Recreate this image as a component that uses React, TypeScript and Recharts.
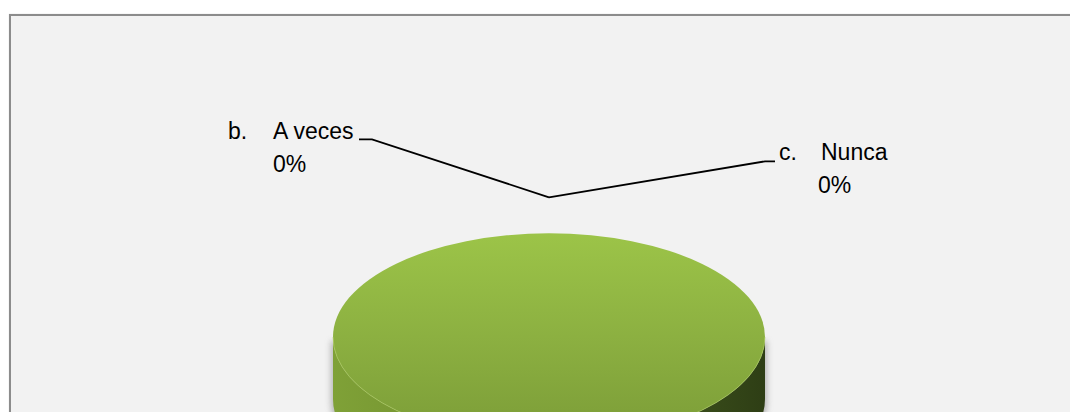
import React from 'react';
import { PieChart, Pie, Cell } from 'recharts';

const categories = ['a. Siempre', 'b. A veces', 'c. Nunca'];
const values = [100, 0, 0];
const colors = ['#8fb442', '#4f81bd', '#c0504d'];

const data = categories.map((name, i) => ({ name, value: values[i] }));

const W = 1070;
const H = 412;
const K = 0.48;
const DEPTH = 62;
const FONT = '"Liberation Sans", Arial, sans-serif';

const Slice3D = (props: any) => {
  const { cx, cy, outerRadius, startAngle, endAngle, index } = props;
  const sweep = Math.abs(endAngle - startAngle);
  if (sweep < 0.01) return <g />;
  const rx = outerRadius;
  const ry = outerRadius * K;
  const id = `s${index}`;
  const defs = (
    <defs>
      <linearGradient id={`${id}top`} x1="0" y1="0" x2="0" y2="1">
        <stop offset="0%" stopColor="#9cc448" />
        <stop offset="50%" stopColor="#8cb041" />
        <stop offset="100%" stopColor="#7b9c37" />
      </linearGradient>
      <linearGradient id={`${id}side`} x1="0" y1="0" x2="1" y2="0">
        <stop offset="0%" stopColor="#7fa137" />
        <stop offset="35%" stopColor="#718f2f" />
        <stop offset="62%" stopColor="#536c22" />
        <stop offset="80%" stopColor="#3b4f1b" />
        <stop offset="100%" stopColor="#2e3e15" />
      </linearGradient>
      <filter id={`${id}blur`} x="-20%" y="-20%" width="140%" height="140%">
        <feGaussianBlur stdDeviation="3" />
      </filter>
    </defs>
  );
  const side = `M${cx - rx},${cy} L${cx - rx},${cy + DEPTH} A${rx},${ry} 0 0 0 ${cx + rx},${cy + DEPTH} L${cx + rx},${cy} A${rx},${ry} 0 0 1 ${cx - rx},${cy} Z`;
  const shadow = `M${cx - rx - 2},${cy + 4} L${cx - rx - 2},${cy + DEPTH + 2} A${rx + 2},${ry + 2} 0 0 0 ${cx + rx + 2},${cy + DEPTH + 2} L${cx + rx + 2},${cy + 4} Z`;
  const rim = `M${cx + rx},${cy} A${rx},${ry} 0 0 1 ${cx - rx},${cy}`;
  return (
    <g>
      {defs}
      <path d={shadow} fill="#9a9a9a" opacity={0.7} filter={`url(#${id}blur)`} />
      <path d={side} fill={`url(#${id}side)`} />
      <ellipse cx={cx} cy={cy} rx={rx} ry={ry} fill={`url(#${id}top)`} />
      <path d={rim} fill="none" stroke="#b4d468" strokeWidth={1} opacity={0.6} />
    </g>
  );
};

const renderLabel = (p: any) => {
  const { cx, cy, outerRadius, index, percent, name } = p;
  if (index === 0) return null;
  const ry = outerRadius * K;
  const ax = cx;
  const ay = cy - ry - 36;
  const pct = `${Math.round(percent * 100)}%`;
  const sp = name.indexOf(' ');
  const letter = name.slice(0, sp);
  const label = name.slice(sp + 1);
  const style = { fontFamily: FONT, fontSize: 23, fill: '#000' };
  if (index === 1) {
    return (
      <g>
        <polyline points={`${ax},${ay} ${cx - 177},${ay - 58} ${cx - 190},${ay - 58}`} fill="none" stroke="#000" strokeWidth={1.8} />
        <text x={cx - 321} y={ay - 58} {...style}>{letter}</text>
        <text x={cx - 276} y={ay - 58} {...style}>{label}</text>
        <text x={cx - 276} y={ay - 25} {...style}>{pct}</text>
      </g>
    );
  }
  return (
    <g>
      <polyline points={`${ax},${ay} ${cx + 216},${ay - 36} ${cx + 226},${ay - 36}`} fill="none" stroke="#000" strokeWidth={1.8} />
      <text x={cx + 230} y={ay - 37} {...style}>{letter}</text>
      <text x={cx + 272} y={ay - 37} {...style}>{label}</text>
      <text x={cx + 269} y={ay - 4} {...style}>{pct}</text>
    </g>
  );
};

export default function App() {
  return (
    <div style={{ position: 'absolute', left: 0, top: 0, width: W, height: H, overflow: 'hidden', background: '#fff' }}>
      <div
        style={{
          position: 'absolute',
          left: 9,
          top: 14,
          width: W + 40,
          height: H + 40,
          border: '2px solid #8c8c8c',
          background: '#f2f2f2',
          boxShadow: '0 0 1px #cfcfcf',
        }}
      />
      <div style={{ position: 'absolute', left: 0, top: 0 }}>
        <PieChart width={W} height={H} margin={{ top: 0, right: 0, bottom: 0, left: 0 }}>
          <Pie
            data={data}
            dataKey="value"
            nameKey="name"
            cx={549}
            cy={337}
            outerRadius={216}
            startAngle={90}
            endAngle={-270}
            stroke="none"
            isAnimationActive={false}
            shape={Slice3D}
            activeShape={Slice3D}
            inactiveShape={Slice3D}
            label={renderLabel}
            labelLine={false}
          >
            {data.map((d, i) => (
              <Cell key={d.name} fill={colors[i]} />
            ))}
          </Pie>
        </PieChart>
      </div>
    </div>
  );
}
